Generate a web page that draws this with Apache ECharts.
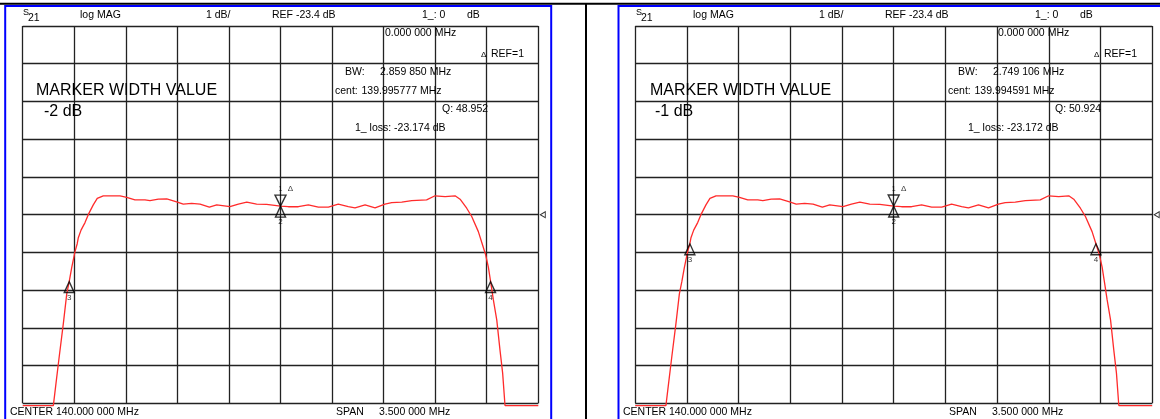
<!DOCTYPE html>
<html>
<head>
<meta charset="utf-8">
<script src="https://cdn.jsdelivr.net/npm/echarts@6/dist/echarts.min.js"></script>
<style>
html,body{margin:0;padding:0;background:#fff;}
#c{width:1160px;height:419px;}
</style>
</head>
<body>
<div id="c"></div>
<script>
// ---- instrument settings ----
const REF_DB = -23.4;          // reference level (centre graticule line)
const DB_PER_DIV = 1;
const CENTER_MHZ = 140.0;
const SPAN_MHZ = 3.5;

// ---- S21 trace (same filter in both panels) ----
const freqMHz = [138.250, 138.458, 138.476, 138.498, 138.526, 138.549, 138.566, 138.583, 138.605, 138.620,
  138.627, 138.646, 138.673, 138.695, 138.729, 138.756, 138.797, 138.911, 138.956, 139.012,
  139.080, 139.114, 139.171, 139.228, 139.295, 139.340, 139.397, 139.454, 139.517, 139.567,
  139.657, 139.714, 139.771, 139.838, 139.906, 140.000, 140.053, 140.121, 140.189, 140.257,
  140.325, 140.392, 140.460, 140.506, 140.574, 140.642, 140.709, 140.755, 140.823, 140.891,
  140.992, 141.049, 141.117, 141.185, 141.219, 141.264, 141.298, 141.343, 141.369, 141.393,
  141.411, 141.426, 141.445, 141.468, 141.490, 141.508, 141.524, 141.750];
const s21Db = [-28.46, -28.46, -27.87, -27.16, -26.28, -25.50, -25.17, -24.80, -24.38, -24.17,
  -24.02, -23.81, -23.61, -23.40, -23.14, -22.97, -22.90, -22.90, -22.94, -23.01,
  -23.01, -23.03, -22.99, -22.98, -23.06, -23.12, -23.10, -23.12, -23.20, -23.14,
  -23.19, -23.12, -23.07, -23.12, -23.13, -23.174, -23.19, -23.19, -23.14, -23.20,
  -23.20, -23.12, -23.19, -23.22, -23.14, -23.22, -23.12, -23.08, -23.07, -23.03,
  -23.01, -22.90, -22.92, -22.90, -22.99, -23.23, -23.45, -23.85, -24.17, -24.47,
  -24.79, -25.17, -25.66, -26.19, -26.99, -27.60, -28.46, -28.46];

// ---- markers ----
const markerIds = ['1', '2', '3', '4'];
const leftMarkerMHz = [140.000, 140.000, 138.565852, 141.425702];
const leftMarkerDb = [-23.174, -23.174, -25.174, -25.174];
const rightMarkerMHz = [140.000, 140.000, 138.620038, 141.369144];
const rightMarkerDb = [-23.172, -23.172, -24.172, -24.172];

// ---- annotation texts ----
const headerTexts = ['log MAG', '1 dB/', 'REF -23.4 dB', '1_: 0', 'dB'];
const deltaFreqText = '0.000 000 MHz';
const widthValues = ['-2 dB', '-1 dB'];
const bwValues = ['2.859 850 MHz', '2.749 106 MHz'];
const centValues = ['139.995777 MHz', '139.994591 MHz'];
const qValues = ['Q: 48.952', 'Q: 50.924'];
const lossValues = ['1_ loss: -23.174 dB', '1_ loss: -23.172 dB'];
const footerTexts = ['CENTER', '140.000 000 MHz', 'SPAN', '3.500 000 MHz'];

// ---- build ----
const xMin = (CENTER_MHZ - SPAN_MHZ / 2) * 1000;   // kHz
const xMax = (CENTER_MHZ + SPAN_MHZ / 2) * 1000;
const xInt = SPAN_MHZ * 1000 / 10;
const toX = f => f * 1000;
const toY = d => (d - REF_DB) / DB_PER_DIV;
const trace = freqMHz.map((f, i) => [toX(f), toY(s21Db[i])]);

const FONT = '"Liberation Sans", Arial, Helvetica, sans-serif';
const gridLine = {show: true, lineStyle: {color: '#222', width: 1.3}};

function xAx(gi) {
  return {type: 'value', gridIndex: gi, min: xMin, max: xMax, interval: xInt,
    axisLabel: {show: false}, axisTick: {show: false}, axisLine: {show: false}, splitLine: gridLine};
}
function yAx(gi) {
  return {type: 'value', gridIndex: gi, min: -5, max: 5, interval: 1,
    axisLabel: {show: false}, axisTick: {show: false}, axisLine: {show: false}, splitLine: gridLine};
}

function panelSeries(gi, mF, mD) {
  const base = {xAxisIndex: gi, yAxisIndex: gi, silent: true, clip: false, animation: false};
  return [
    Object.assign({}, base, {type: 'line', data: trace, showSymbol: false, symbol: 'none',
      lineStyle: {color: '#ff2b2b', width: 1.3}, z: 3}),
    Object.assign({}, base, {type: 'scatter', z: 5,
      data: [[toX(mF[0]), toY(mD[0])]],
      symbol: 'path://M0,0L10,0L5,10Z', symbolSize: [11, 11], symbolOffset: [0, '-50%'],
      itemStyle: {color: 'rgba(255,255,255,0)', borderColor: '#000', borderWidth: 1.4},
      label: {show: true, position: 'top', distance: 2, formatter: markerIds[0], fontSize: 7, color: '#000', fontFamily: FONT}}),
    Object.assign({}, base, {type: 'scatter', z: 5,
      data: mF.slice(1).map((f, i) => [toX(f), toY(mD[i + 1])]),
      symbol: 'path://M5,0L10,10L0,10Z', symbolSize: [10, 11], symbolOffset: [0, '50%'],
      itemStyle: {color: 'rgba(255,255,255,0)', borderColor: '#000', borderWidth: 1.4},
      label: {show: true, position: 'bottom', distance: 0, formatter: p => markerIds[p.dataIndex + 1], fontSize: 8, color: '#000', fontFamily: FONT}}),
    Object.assign({}, base, {type: 'scatter', z: 5,
      data: [[toX(mF[0]), toY(mD[0])]], symbolSize: 0,
      label: {show: true, position: 'inside', offset: [10, -17], formatter: 'Δ', fontSize: 8, color: '#000', fontFamily: FONT}}),
    Object.assign({}, base, {type: 'scatter', z: 5,
      data: [[xMax, 0]],
      symbol: 'path://M10,0L0,5L10,10Z', symbolSize: [5, 6], symbolOffset: [4.5, 0],
      itemStyle: {color: '#fff', borderColor: '#000', borderWidth: 1}})
  ];
}

function txt(x, y, s, size) {
  return {type: 'text', x: x, y: y, silent: true, z: 10,
    style: {text: s, fill: '#000', font: (size || 10.5) + 'px ' + FONT, align: 'left', verticalAlign: 'middle'}};
}

function panelTexts(p) {
  const dx = p === 0 ? 0 : 613;
  return [
    txt(23 + dx, 13, 'S', 9), txt(28 + dx, 18, '21', 10.5),
    txt(80 + dx, 15, headerTexts[0]), txt(206 + dx, 15, headerTexts[1]),
    txt(272 + dx, 15, headerTexts[2]), txt(422 + dx, 15, headerTexts[3]), txt(467 + dx, 15, headerTexts[4]),
    txt(385 + dx, 33, deltaFreqText),
    txt(481 + dx, 55, 'Δ', 8), txt(491 + dx, 54, 'REF=1'),
    txt(345 + dx, 72.5, 'BW:'), txt(380 + dx, 72.5, bwValues[p]),
    txt(335 + dx, 91, 'cent:'), txt(361.5 + dx, 91, centValues[p]),
    txt(442 + dx, 109, qValues[p]),
    txt(355 + dx, 128, lossValues[p]),
    txt(p === 0 ? 36 : 650, 91, 'MARKER WIDTH VALUE', 16),
    txt(p === 0 ? 44 : 655, 112, widthValues[p], 16),
    txt(10 + dx, 412.5, footerTexts[0]), txt(56 + dx, 412.5, footerTexts[1]),
    txt(336 + dx, 412.5, footerTexts[2]), txt(379 + dx, 412.5, footerTexts[3])
  ];
}

const frame = [
  {type: 'rect', silent: true, z: 1, shape: {x: 0, y: 2.8, width: 1160, height: 2}, style: {fill: '#000'}},
  {type: 'rect', silent: true, z: 1, shape: {x: 5.2, y: 6, width: 546, height: 430}, style: {fill: 'none', stroke: '#0000ff', lineWidth: 2}},
  {type: 'rect', silent: true, z: 1, shape: {x: 585, y: 3, width: 2, height: 416}, style: {fill: '#000'}},
  {type: 'rect', silent: true, z: 1, shape: {x: 618.5, y: 6, width: 560, height: 430}, style: {fill: 'none', stroke: '#0000ff', lineWidth: 2}}
];

const chart = echarts.init(document.getElementById('c'), null, {renderer: 'canvas'});
chart.setOption({
  animation: false,
  backgroundColor: '#fff',
  grid: [
    {left: 22.7, top: 26, width: 515.6, height: 377.3},
    {left: 635.2, top: 26, width: 517, height: 377.3}
  ],
  xAxis: [xAx(0), xAx(1)],
  yAxis: [yAx(0), yAx(1)],
  series: panelSeries(0, leftMarkerMHz, leftMarkerDb).concat(panelSeries(1, rightMarkerMHz, rightMarkerDb)),
  graphic: {elements: frame.concat(panelTexts(0), panelTexts(1))}
});
</script>
</body>
</html>
